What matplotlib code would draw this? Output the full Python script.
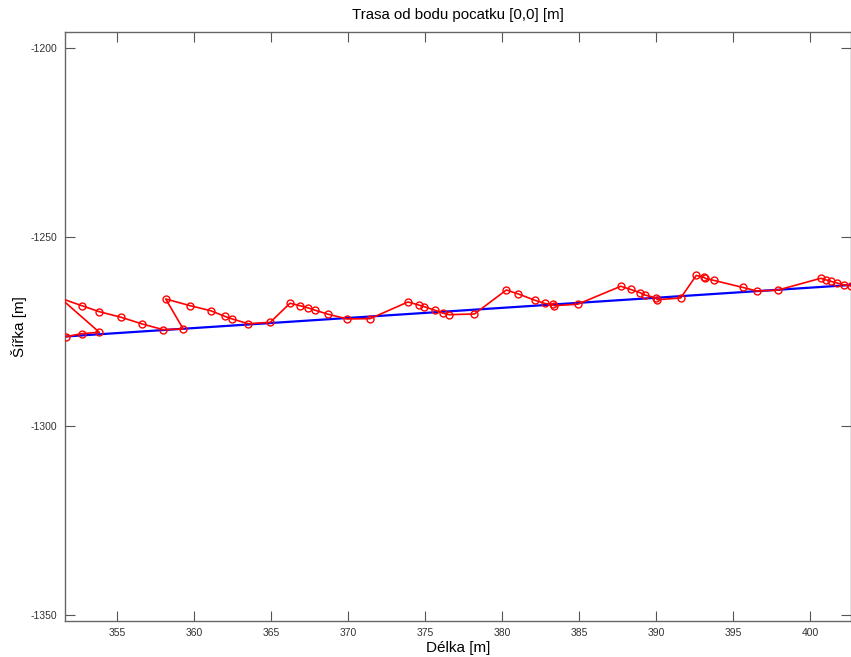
import matplotlib
matplotlib.use("Agg")
import matplotlib.pyplot as plt

# Blue reference line (start / end)
blue_x = [351.53, 402.63]
blue_y = [-1276.35, -1262.70]

# Red measured track
red_x = [351.66, 352.68, 353.82, 351.30, 352.68, 353.82, 355.23, 356.61, 357.97, 359.27,
         358.13, 359.71, 361.05, 361.96, 362.45, 363.49, 364.92, 366.20, 366.85, 367.39,
         367.84, 368.69, 369.92, 371.40, 373.86, 374.56, 374.92, 375.62, 376.16, 376.55,
         378.18, 380.25, 381.03, 382.11, 382.76, 383.25, 383.34, 384.88, 387.68, 388.33,
         388.93, 389.25, 389.97, 390.05, 391.57, 392.58, 393.08, 393.18, 393.75, 395.62,
         396.51, 397.86, 400.67, 401.03, 401.35, 401.73, 402.19, 402.63]
red_y = [-1276.38, -1275.58, -1275.21, -1266.20, -1268.17, -1269.76, -1271.24, -1273.02, -1274.52, -1274.34,
         -1266.40, -1268.17, -1269.50, -1270.98, -1271.69, -1272.94, -1272.57, -1267.54, -1268.17, -1268.78,
         -1269.39, -1270.45, -1271.69, -1271.61, -1267.20, -1267.99, -1268.44, -1269.39, -1270.19, -1270.56,
         -1270.37, -1264.02, -1265.08, -1266.75, -1267.59, -1267.86, -1268.17, -1267.80, -1263.04, -1263.89,
         -1264.74, -1265.34, -1266.14, -1266.59, -1266.14, -1260.19, -1260.66, -1260.98, -1261.51, -1263.36,
         -1264.29, -1264.07, -1260.93, -1261.38, -1261.77, -1262.17, -1262.70, -1262.96]

x_ticks = [355, 360, 365, 370, 375, 380, 385, 390, 395, 400]
y_ticks = [-1350, -1300, -1250, -1200]

title = "Trasa od bodu pocatku [0,0] [m]"
xlabel = "Délka [m]"
ylabel = "Šířka [m]"

plt.rcParams['font.family'] = ['Liberation Sans', 'DejaVu Sans']
plt.rcParams['axes.unicode_minus'] = False

W, H = 851, 657
fig = plt.figure(figsize=(W / 100, H / 100), dpi=100)
ax = fig.add_axes([64.5 / W, 1 - 621 / H, (851 - 64.5) / W, (621 - 32) / H])

ax.plot(blue_x, blue_y, color='#0000ff', lw=1.6, zorder=2)
ax.plot(red_x, red_y, color='#ff0000', lw=1.2, marker='o', markersize=5,
        markerfacecolor='none', markeredgecolor='#ff0000', markeredgewidth=1.0, zorder=3)

ax.set_xlim(351.56, 402.63)
ax.set_ylim(-1351.6, -1195.77)
ax.set_xticks(x_ticks)
ax.set_yticks(y_ticks)
ax.tick_params(direction='in', top=True, right=True, length=7, width=0.8,
               labelsize=7.5, labelcolor='#333333', color='#555555', pad=5)
for s in ax.spines.values():
    s.set_color('#666666')
    s.set_linewidth(1.0)

ax.set_title(title, fontsize=10.8, pad=9)
ax.set_xlabel(xlabel, fontsize=11, labelpad=2)
ax.set_ylabel(ylabel, fontsize=11, labelpad=3)

fig.savefig("out.png", dpi=100, facecolor='white')
